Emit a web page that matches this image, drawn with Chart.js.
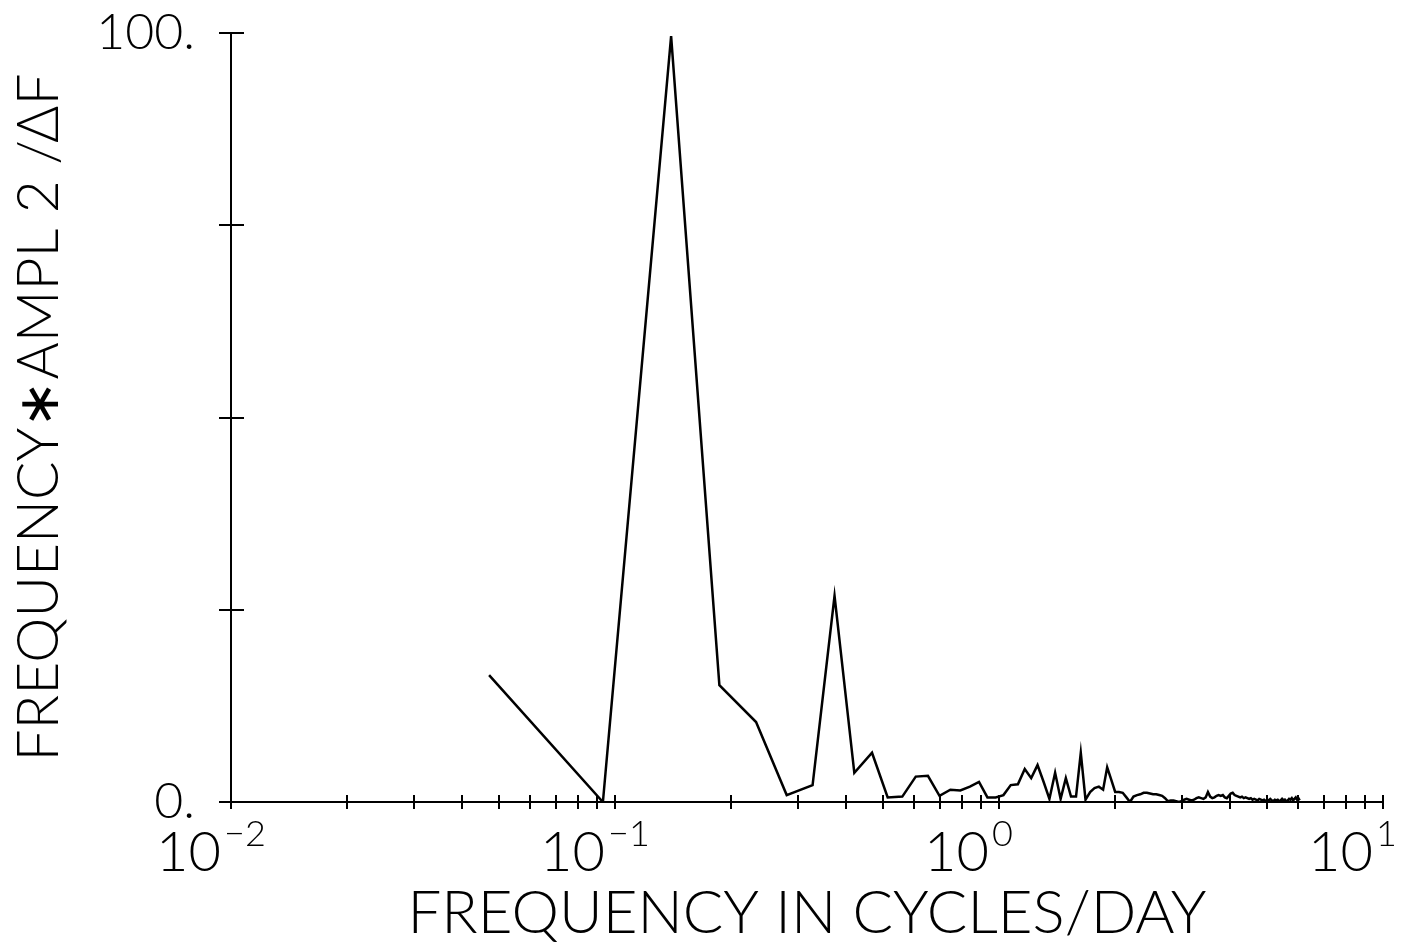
<!DOCTYPE html>
<html>
<head>
<meta charset="utf-8">
<script src="https://cdn.jsdelivr.net/npm/chart.js@4.4.1/dist/chart.umd.min.js"></script>
<style>
  html, body { margin: 0; padding: 0; background: #fff; }
  #spectrum { display: block; }
</style>
</head>
<body>
<canvas id="spectrum" width="1404" height="946"></canvas>
<script>
// frequencies of the spectral estimates (cycles/day)
const frequencies = [
  0.047, 0.093, 0.140, 0.187, 0.233, 0.280, 0.327, 0.373, 0.420, 0.467,
  0.513, 0.560, 0.607, 0.653, 0.700, 0.747, 0.793, 0.840, 0.887, 0.933,
  0.980, 1.027, 1.073, 1.120, 1.167, 1.213, 1.260, 1.307, 1.353, 1.400,
  1.447, 1.493, 1.540, 1.587, 1.633, 1.680, 1.727, 1.773, 1.820, 1.867,
  1.913, 1.960, 2.007, 2.053, 2.100, 2.147, 2.193, 2.240, 2.287, 2.333,
  2.380, 2.427, 2.473, 2.520, 2.567, 2.613, 2.660, 2.707, 2.753, 2.800,
  2.847, 2.893, 2.940, 2.987, 3.033, 3.080, 3.127, 3.173, 3.220, 3.267,
  3.313, 3.360, 3.407, 3.453, 3.500, 3.547, 3.593, 3.640, 3.687, 3.733,
  3.780, 3.827, 3.873, 3.920, 3.967, 4.013, 4.060, 4.107, 4.153, 4.200,
  4.247, 4.293, 4.340, 4.387, 4.433, 4.480, 4.527, 4.573, 4.620, 4.667,
  4.713, 4.760, 4.807, 4.853, 4.900, 4.947, 4.993, 5.040, 5.087, 5.133,
  5.180, 5.227, 5.273, 5.320, 5.367, 5.413, 5.460, 5.507, 5.553, 5.600,
  5.647, 5.693, 5.740, 5.787, 5.833, 5.880, 5.927, 5.973, 6.020, 6.067
];

// frequency * amplitude^2 / delta f (percent of peak)
const power = [
  16.5, 0.0, 99.6, 15.2, 10.4, 0.9, 2.2, 26.8, 3.8, 6.4,
  0.6, 0.7, 3.3, 3.4, 0.8, 1.6, 1.5, 2.0, 2.6, 0.6,
  0.6, 0.9, 2.2, 2.3, 4.3, 3.1, 4.8, 2.6, 0.4, 3.8,
  0.4, 3.1, 0.7, 0.7, 6.4, 0.3, 1.3, 1.8, 2.0, 1.6,
  4.5, 2.9, 1.3, 1.3, 1.2, 0.6, 0.0, 0.7, 0.9, 1.0,
  1.2, 1.2, 1.1, 1.0, 1.0, 0.9, 0.8, 0.5, 0.1, 0.2,
  0.2, 0.1, 0.0, 0.1, 0.3, 0.4, 0.3, 0.2, 0.3, 0.5,
  0.6, 0.5, 0.4, 0.6, 1.3, 0.7, 0.5, 0.6, 0.8, 0.9,
  0.8, 0.9, 0.6, 0.5, 0.8, 1.1, 1.2, 0.9, 0.8, 0.7,
  0.6, 0.7, 0.5, 0.6, 0.5, 0.4, 0.5, 0.3, 0.4, 0.3,
  0.2, 0.4, 0.3, 0.2, 0.3, 0.1, 0.3, 0.2, 0.4, 0.2,
  0.1, 0.3, 0.2, 0.3, 0.1, 0.2, 0.4, 0.2, 0.3, 0.1,
  0.2, 0.4, 0.3, 0.5, 0.2, 0.4, 0.6, 0.3, 0.5, 0.2
];

// tick marks on both axes
const xTickValues = [
  0.01, 0.02, 0.03, 0.04, 0.05, 0.06, 0.07, 0.08, 0.09,
  0.1, 0.2, 0.3, 0.4, 0.5, 0.6, 0.7, 0.8, 0.9,
  1, 2, 3, 4, 5, 6, 7, 8, 9, 10
];
const xDecades = [0.01, 0.1, 1, 10];
const xExponents = ['\u22122', '\u22121', '0', '1'];
const yTickValues = [0, 25, 50, 75, 100];
const yTickLabels = { 0: '0.', 100: '100.' };

const FONT = 'Lato';

// plotter style tick marks that cross the axis lines, plus the 10^n labels
const plotterAxes = {
  id: 'plotterAxes',
  afterDraw(chart) {
    const ctx = chart.ctx;
    const x = chart.scales.x;
    const y = chart.scales.y;
    const y0 = y.getPixelForValue(0);
    const xLeft = x.getPixelForValue(xTickValues[0]);
    ctx.save();
    ctx.strokeStyle = '#000';
    ctx.lineWidth = 2;
    ctx.beginPath();
    xTickValues.forEach(v => {
      const px = Math.round(x.getPixelForValue(v));
      ctx.moveTo(px, y0 - 7);
      ctx.lineTo(px, y0 + 7);
    });
    yTickValues.forEach(v => {
      const py = Math.round(y.getPixelForValue(v));
      ctx.moveTo(xLeft - 12, py);
      ctx.lineTo(xLeft + 13, py);
    });
    ctx.stroke();

    // decade labels with raised exponents
    ctx.fillStyle = '#000';
    ctx.textBaseline = 'alphabetic';
    xDecades.forEach((v, i) => {
      const px = x.getPixelForValue(v);
      ctx.font = '300 56px ' + FONT;
      ctx.textAlign = 'right';
      ctx.fillText('10', px - 10, 871);
      ctx.font = '300 36px ' + FONT;
      ctx.textAlign = 'left';
      ctx.fillText(xExponents[i], px - 7, 846);
    });
    ctx.restore();
  }
};

const ctx = document.getElementById('spectrum').getContext('2d');
const chart = new Chart(ctx, {
  type: 'line',
  data: {
    datasets: [{
      data: frequencies.map((f, i) => ({ x: f, y: power[i] })),
      borderColor: '#000',
      borderWidth: 2.5,
      pointRadius: 0,
      tension: 0,
      fill: false
    }]
  },
  options: {
    responsive: false,
    devicePixelRatio: 1,
    animation: false,
    layout: { padding: { top: 33, right: 21, left: 0, bottom: 0 } },
    plugins: {
      legend: { display: false },
      tooltip: { enabled: false }
    },
    scales: {
      x: {
        type: 'logarithmic',
        min: 0.01,
        max: 10,
        afterBuildTicks: scale => { scale.ticks = xTickValues.map(v => ({ value: v })); },
        afterFit: scale => {
          scale.height = 144;
          scale.paddingLeft = 0;
          scale.paddingRight = 0;
        },
        grid: { display: false, drawTicks: false },
        border: { display: true, color: '#000', width: 2 },
        ticks: { display: false },
        title: {
          display: true,
          text: 'FREQUENCY IN CYCLES/DAY',
          color: '#000',
          font: { family: FONT, size: 60, weight: 300, lineHeight: 1 },
          padding: { top: 0, bottom: 2 }
        }
      },
      y: {
        min: 0,
        max: 100,
        afterBuildTicks: scale => { scale.ticks = yTickValues.map(v => ({ value: v })); },
        afterFit: scale => {
          scale.width = 231;
          scale.paddingTop = 0;
          scale.paddingBottom = 0;
        },
        grid: { display: false, drawTicks: false },
        border: { display: true, color: '#000', width: 2 },
        ticks: {
          padding: 36,
          color: '#000',
          font: { family: FONT, size: 50, weight: 300 },
          callback: v => yTickLabels[v] || ''
        },
        title: {
          display: true,
          text: 'FREQUENCY\u2217AMPL 2 /\u0394F',
          color: '#000',
          font: { family: FONT, size: 57, weight: 300, lineHeight: 1 },
          padding: { top: 11, bottom: 0 }
        }
      }
    }
  },
  plugins: [plotterAxes]
});
</script>
</body>
</html>
